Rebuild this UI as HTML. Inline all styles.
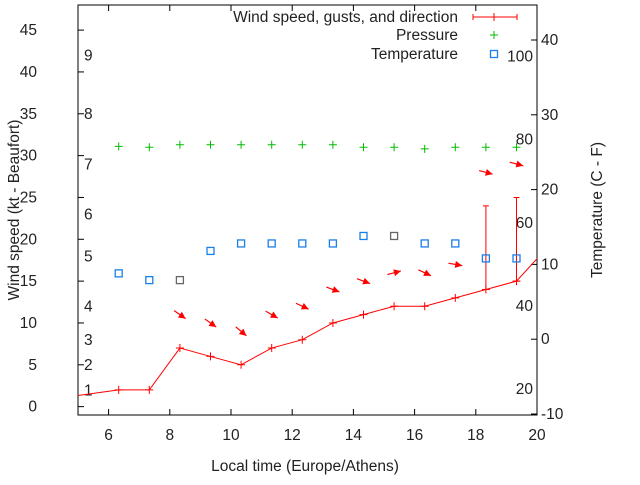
<!DOCTYPE html>
<html><head><meta charset="utf-8"><style>
body{margin:0;background:#fff}
svg text{font-family:"Liberation Sans",sans-serif;font-size:15.5px;fill:#222}
</style></head><body>
<svg width="640" height="480" viewBox="0 0 640 480">
<defs><clipPath id="clip"><rect x="78" y="5" width="459" height="410"/></clipPath></defs>
<rect x="78" y="5" width="459" height="410" fill="none" stroke="#000" stroke-width="1"/>
<g id="axes"></g>
<g id="marks" clip-path="url(#clip)"></g>
<g id="legend"></g>
<text x="305" y="471" text-anchor="middle">Local time (Europe/Athens)</text>
<text transform="translate(19,210) rotate(-90)" text-anchor="middle">Wind speed (kt - Beaufort)</text>
<text transform="translate(602,210) rotate(-90)" text-anchor="middle">Temperature (C - F)</text>
</svg>
<script>
const times=[4.33,6.33,7.33,8.33,9.33,10.33,11.33,12.33,13.33,14.33,15.33,16.33,17.33,18.33,19.33,20.33];
const wind=[1,2,2,7,6,5,7,8,10,11,12,12,13,14,15,19];
const gustTimes=[18.33,19.33];
const gustLow=[14,15];
const gustHigh=[24,25];
const dirTimes=[8.33,9.33,10.33,11.33,12.33,13.33,14.33,15.33,16.33,17.33,18.33,19.33];
const dirLevel=[11,10,9,11,12,14,15,16,16,17,28,29];
const dirAngle=[35,35,40,30,25,20,20,-15,25,10,15,15];
const pTimes=[6.33,7.33,8.33,9.33,10.33,11.33,12.33,13.33,14.33,15.33,16.33,17.33,18.33,19.33];
const pressure=[31.1,31.0,31.3,31.3,31.3,31.3,31.3,31.3,31.0,31.0,30.8,31.0,31.0,31.0];
const tTimes=[6.33,7.33,8.33,9.33,10.33,11.33,12.33,13.33,14.33,15.33,16.33,17.33,18.33,19.33];
const temps=[8.8,7.9,7.9,11.8,12.8,12.8,12.8,12.8,13.8,13.8,12.8,12.8,10.8,10.8];
const tempGrey=[0,0,1,0,0,0,0,0,0,1,0,0,0,0];
const xTicks=[6,8,10,12,14,16,18,20];
const yTicks=[0,5,10,15,20,25,30,35,40,45];
const y2Ticks=[-10,0,10,20,30,40];
const beaufort=[1,4,7,11,17,22,28,34,41];
const fTicks=[20,40,60,80,100];

const X=v=>78+(v-5)*459/15;
const Y=v=>415-(v+1)*410/49;
const Y2=v=>414-(v+10)*7.48;
const NS="http://www.w3.org/2000/svg";
function el(tag,attrs,parent,txt){const e=document.createElementNS(NS,tag);for(const k in attrs)e.setAttribute(k,attrs[k]);if(txt!==undefined)e.textContent=txt;parent.appendChild(e);return e;}
const axes=document.getElementById('axes'),marks=document.getElementById('marks'),leg=document.getElementById('legend');

xTicks.forEach(t=>{const x=X(t);
 let l=el('line',{x1:x,y1:415,x2:x,y2:409,stroke:'#000'},axes);
 let l2=el('line',{x1:x,y1:5,x2:x,y2:11,stroke:'#000'},axes);
 let tx=el('text',{x:x,y:440,'text-anchor':'middle'},axes,t);});
yTicks.forEach(t=>{const y=Y(t);
 let l=el('line',{x1:78,y1:y,x2:84,y2:y,stroke:'#000'},axes);
 let tx=el('text',{x:37,y:y+5,'text-anchor':'end'},axes,t);});
y2Ticks.forEach(t=>{const y=Y2(t);
 let l=el('line',{x1:537,y1:y,x2:531,y2:y,stroke:'#000'},axes);
 let tx=el('text',{x:541,y:y+5},axes,t);});
beaufort.forEach((k,i)=>{let tx=el('text',{x:84,y:Y(k)-3},axes,i+1);});
fTicks.forEach(f=>{let tx=el('text',{x:533,y:Y2((f-32)*5/9)+5,'text-anchor':'end'},axes,f);});

let pl=el('polyline',{points:times.map((t,i)=>X(t)+','+Y(wind[i])).join(' '),fill:'none',stroke:'#f00','stroke-width':1},marks);

times.forEach((t,i)=>{const x=X(t),y=Y(wind[i]);let p=el('path',{d:`M${x-4},${y}H${x+4}M${x},${y-4}V${y+4}`,stroke:'#f00'},marks);});
gustTimes.forEach((t,i)=>{const x=X(t),y1=Y(gustLow[i]),y2=Y(gustHigh[i]);
 let p=el('path',{d:`M${x},${y1}V${y2}M${x-3},${y2}H${x+3}M${x-3},${y1}H${x+3}`,stroke:'#f00'},marks);});
dirTimes.forEach((t,i)=>{const cx=X(t),cy=Y(dirLevel[i]),a=dirAngle[i]*Math.PI/180,L=7,dx=Math.cos(a),dy=Math.sin(a);
 const x1=cx-L*dx,y1=cy-L*dy,x2=cx+L*dx,y2=cy+L*dy;
 const g=el('g',{},marks);
 el('line',{x1,y1,x2,y2,stroke:'#f00','stroke-width':1.2},g);
 const bx=x2-7*dx,by=y2-7*dy,px=-dy*3.5,py=dx*3.5;
 el('polygon',{points:`${x2},${y2} ${bx+px},${by+py} ${bx-px},${by-py}`,fill:'#f00'},g);});
pTimes.forEach((t,i)=>{const x=X(t),y=Y(pressure[i]);let p=el('path',{d:`M${x-4},${y}H${x+4}M${x},${y-4}V${y+4}`,stroke:'#0b0'},marks);});
tTimes.forEach((t,i)=>{const x=X(t),y=Y2(temps[i]);let r=el('rect',{x:x-3.5,y:y-3.5,width:7,height:7,fill:'none',stroke:tempGrey[i]?'#666':'#1a7fe8','stroke-width':1.3},marks);});

[['Wind speed, gusts, and direction',17],['Pressure',35],['Temperature',54]].forEach(([s,y])=>{let tx=el('text',{x:458,y:y+5,'text-anchor':'end'},leg,s);});
let lw=el('path',{d:'M473,17H517M473,14V20M517,14V20M494,13V21',stroke:'#f00'},leg);
let lp=el('path',{d:'M490,35H498M494,31V39',stroke:'#0b0'},leg);
let lt=el('rect',{x:490.5,y:50.5,width:7,height:7,fill:'none',stroke:'#1a7fe8','stroke-width':1.3},leg);
</script>
</body></html>
